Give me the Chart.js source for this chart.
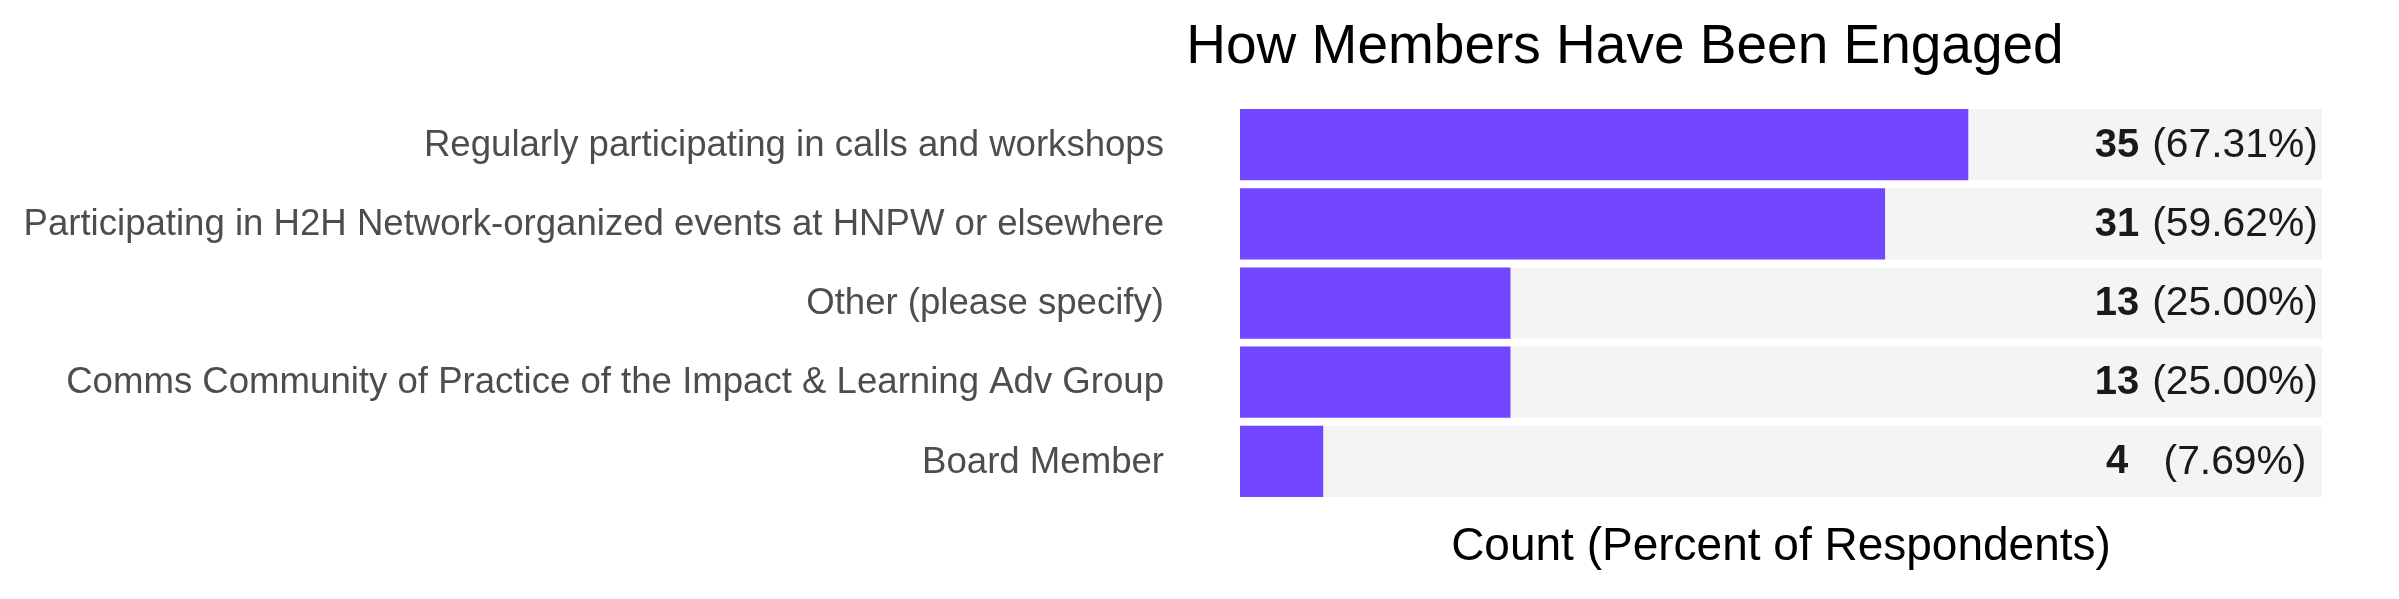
<!DOCTYPE html>
<html>
<head>
<meta charset="utf-8">
<script src="https://cdn.jsdelivr.net/npm/chart.js@4.4.1/dist/chart.umd.min.js"></script>
<style>
  body { margin: 0; background: #fff; overflow: hidden; }
  #wrap { position: relative; width: 2399px; height: 599px; }
  #title {
    position: absolute; top: 11px; left: 1625px; transform: translateX(-50%);
    font: 55px "Liberation Sans", Arial, sans-serif; line-height: 66px;
    color: #000; white-space: nowrap;
  }
</style>
</head>
<body>
<div id="wrap">
  <div id="title">How Members Have Been Engaged</div>
  <canvas id="engaged-chart" width="2399" height="599"></canvas>
</div>
<script>
const categories = [
    'Regularly participating in calls and workshops',
    'Participating in H2H Network-organized events at HNPW or elsewhere',
    'Other (please specify)',
    'Comms Community of Practice of the Impact & Learning Adv Group',
    'Board Member'
];
const counts = [35, 31, 13, 13, 4];
const percents = [67.31, 59.62, 25.00, 25.00, 7.69];
const fullScale = [100, 100, 100, 100, 100];

const FONT = '"Liberation Sans", Arial, sans-serif';

// writes "35 (67.31%)" at the right end of each grey track
const valueLabels = {
    id: 'valueLabels',
    afterDatasetsDraw(chart) {
        const ctx = chart.ctx;
        const x = chart.scales.x;
        const y = chart.scales.y;
        const right = x.getPixelForValue(100);
        ctx.save();
        ctx.textBaseline = 'middle';
        ctx.textAlign = 'center';
        ctx.fillStyle = '#1a1a1a';
        for (let i = 0; i < counts.length; i++) {
            const yy = y.getPixelForValue(i) + 1;
            ctx.font = 'bold 40px ' + FONT;
            ctx.fillText(String(counts[i]), right - 205, yy);
            ctx.font = '40.8px ' + FONT;
            ctx.fillText('(' + percents[i].toFixed(2) + '%)', right - 87, yy);
        }
        ctx.restore();
    }
};

new Chart(document.querySelector('#engaged-chart').getContext('2d'), {
    type: 'bar',
    data: {
        labels: categories,
        datasets: [
            {
                label: 'Percent',
                data: percents,
                backgroundColor: '#7247ff',
                barPercentage: 0.9,
                categoryPercentage: 1,
                grouped: false,
                order: 1
            },
            {
                label: 'Track',
                data: fullScale,
                backgroundColor: '#f4f4f4',
                barPercentage: 0.9,
                categoryPercentage: 1,
                grouped: false,
                order: 2
            }
        ]
    },
    options: {
        indexAxis: 'y',
        responsive: false,
        animation: false,
        devicePixelRatio: 1,
        layout: { padding: { top: 105, right: 77, bottom: 0, left: 0 } },
        plugins: {
            legend: { display: false },
            tooltip: { enabled: false }
        },
        scales: {
            x: {
                min: 0,
                max: 100,
                grid: { display: false, drawTicks: false },
                border: { display: false },
                ticks: { display: false },
                title: {
                    display: true,
                    text: 'Count (Percent of Respondents)',
                    color: '#000',
                    font: { family: FONT, size: 46 },
                    padding: { top: 19, bottom: 22 }
                }
            },
            y: {
                grid: { display: false, drawTicks: false },
                border: { display: false },
                ticks: {
                    color: '#4d4d4d',
                    padding: 76,
                    labelOffset: 1,
                    font: { family: FONT, size: 36.6 }
                },
                afterFit(scale) { scale.width = 1240; }
            }
        }
    },
    plugins: [valueLabels]
});
</script>
</body>
</html>
